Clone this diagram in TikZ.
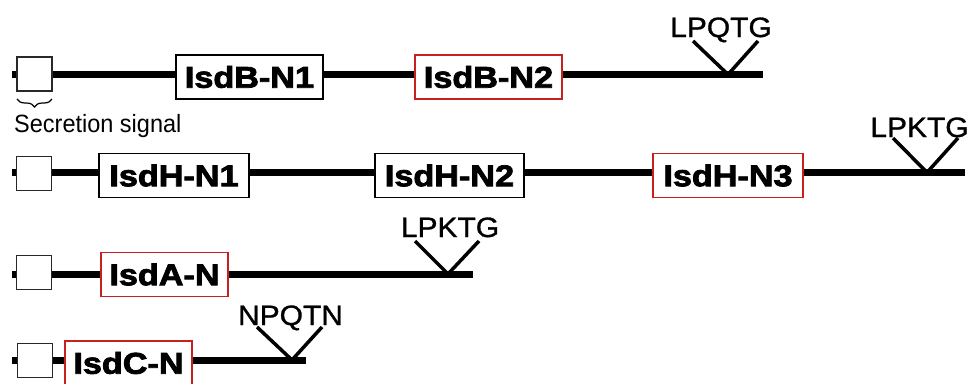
\documentclass[tikz,border=0pt]{standalone}
\usepackage{fontspec}
\setmainfont{Liberation Sans}
\newfontfamily\domfont[FakeBold=2.5]{Liberation Sans Bold}
\newfontfamily\motfont[FakeBold=1]{Liberation Sans}
\usetikzlibrary{decorations.pathreplacing}
\definecolor{domred}{RGB}{200,32,32}
\definecolor{sigedge}{RGB}{40,40,40}
\tikzset{
  backbone/.style={line width=7pt},
  vmark/.style={line width=3.5pt},
  sigbox/.style={draw=sigedge, line width=1.5pt, fill=white, minimum width=35pt, minimum height=34pt, inner sep=0pt},
  dombox/.style={draw=black, line width=1.6pt, fill=white, minimum height=44pt, inner sep=0pt, font=\fontsize{30}{30}\domfont},
  redbox/.style={dombox, draw=domred},
  motif/.style={anchor=base, inner sep=0pt, font=\fontsize{28}{28}\motfont},
}
\newcommand{\dlab}[1]{\scalebox{1.14}[1]{#1}}
\newcommand{\mlab}[1]{\scalebox{1.07}[1]{#1}}
\begin{document}
\begin{tikzpicture}[x=1pt,y=-1pt]
\useasboundingbox (0,0) rectangle (971,383);
% ---------- Row 1: IsdB
\coordinate (s1) at (12,74.5);
\coordinate (e1) at (763,74.5);
\draw[backbone] (s1) -- (e1);
\node[sigbox] (sig1) at (34.5,74) {};
\node[dombox, minimum width=147pt] (b1) at (249.5,77) {\dlab{IsdB-N1}};
\node[redbox, minimum width=147pt] (b2) at (488.5,77) {\dlab{IsdB-N2}};
\coordinate (v1) at (728,74.5);
\coordinate (v1l) at (693,41);
\coordinate (v1r) at (758,41);
\draw[vmark] (v1l) -- (v1) -- (v1r);
\node[motif] (m1) at (721,37) {\mlab{LPQTG}};
\coordinate (br1) at (17,99);
\coordinate (br2) at (52,99);
\draw[line width=1.2pt, decorate, decoration={brace, mirror, amplitude=8pt}] (br1) -- (br2);
\node[anchor=base west, inner sep=0pt, font=\fontsize{25}{25}\selectfont] (sec) at (14,132) {\scalebox{0.94}[1]{Secretion signal}};
% ---------- Row 2: IsdH
\coordinate (s2) at (12,172.5);
\coordinate (e2) at (965,172.5);
\draw[backbone] (s2) -- (e2);
\node[sigbox] (sig2) at (34,173.5) {};
\node[dombox, minimum width=150pt] (h1) at (174,175.5) {\dlab{IsdH-N1}};
\node[dombox, minimum width=149pt] (h2) at (449.5,175.5) {\dlab{IsdH-N2}};
\node[redbox, minimum width=150pt] (h3) at (728,175.5) {\dlab{IsdH-N3}};
\coordinate (v2) at (927,172.5);
\coordinate (v2l) at (893,138);
\coordinate (v2r) at (958,138);
\draw[vmark] (v2l) -- (v2) -- (v2r);
\node[motif] (m2) at (919.5,137) {\mlab{LPKTG}};
% ---------- Row 3: IsdA
\coordinate (s3) at (12,274);
\coordinate (e3) at (473,274);
\draw[backbone] (s3) -- (e3);
\node[sigbox] (sig3) at (34,272.5) {};
\node[redbox, minimum width=127pt] (a1) at (164.5,274.5) {\dlab{IsdA-N}};
\coordinate (v3) at (448,274);
\coordinate (v3l) at (415,241);
\coordinate (v3r) at (479,241);
\draw[vmark] (v3l) -- (v3) -- (v3r);
\node[motif] (m3) at (450,237) {\mlab{LPKTG}};
% ---------- Row 4: IsdC
\coordinate (s4) at (12,360);
\coordinate (e4) at (306,360);
\draw[backbone] (s4) -- (e4);
\node[sigbox] (sig4) at (35,360.5) {};
\node[redbox, minimum width=127pt] (c1) at (128.5,363) {\dlab{IsdC-N}};
\coordinate (v4) at (292,360);
\coordinate (v4l) at (257,327);
\coordinate (v4r) at (322,327);
\draw[vmark] (v4l) -- (v4) -- (v4r);
\node[motif] (m4) at (290.5,325) {\mlab{NPQTN}};
\end{tikzpicture}
\end{document}
